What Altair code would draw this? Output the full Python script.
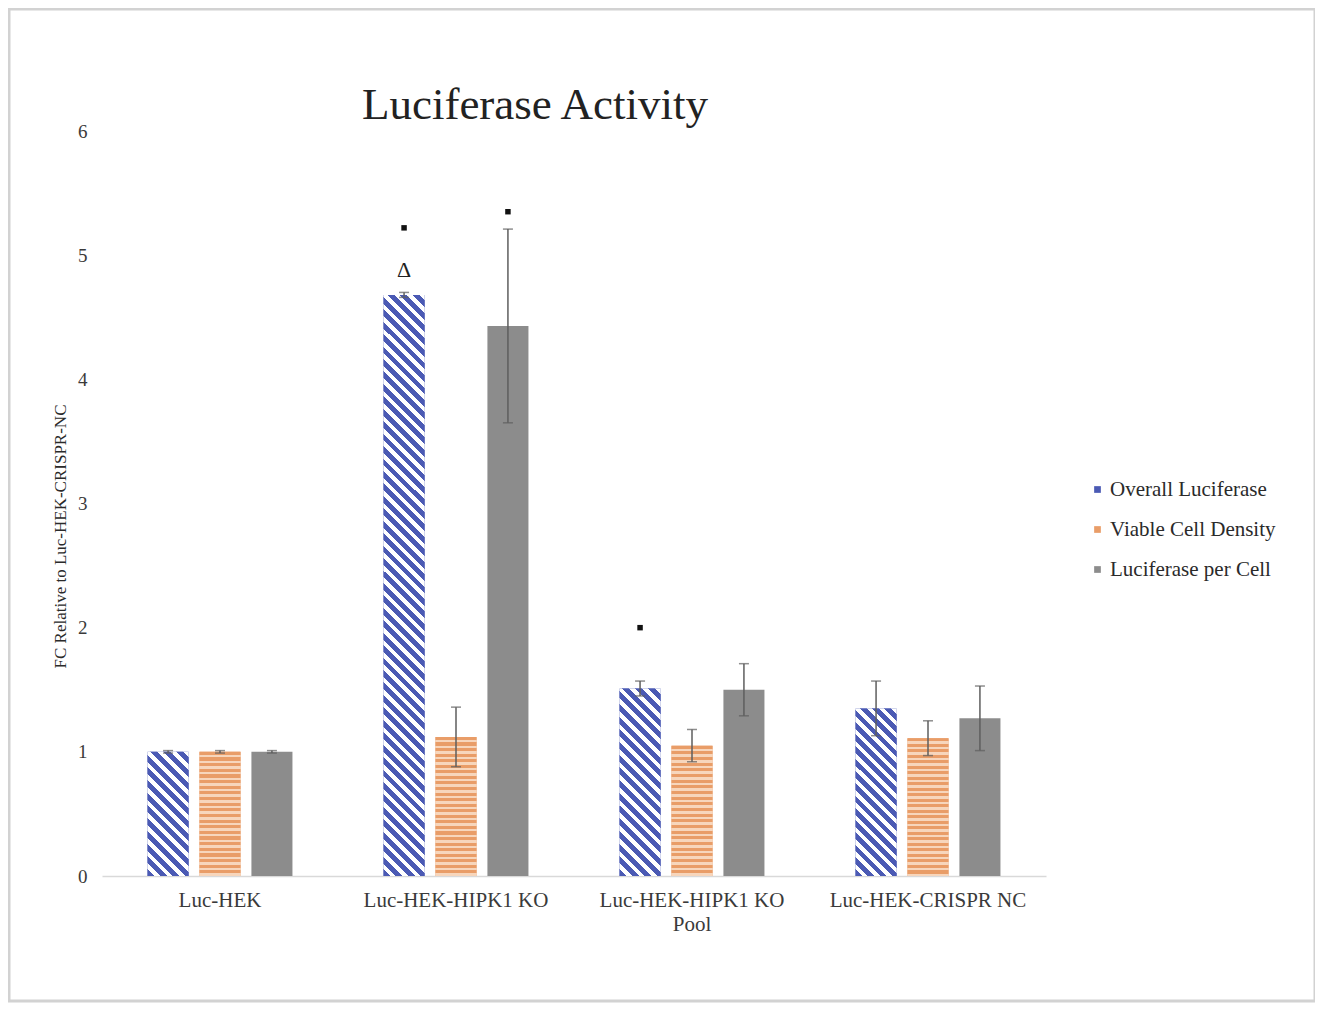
import altair as alt
import pandas as pd

groups = ["Luc-HEK", "Luc-HEK-HIPK1 KO", "Luc-HEK-HIPK1 KO Pool", "Luc-HEK-CRISPR NC"]
series = ["Overall Luciferase", "Viable Cell Density", "Luciferase per Cell"]

overall = [1.00, 4.68, 1.51, 1.35]
overall_err = [0.01, 0.02, 0.06, 0.22]
viable = [1.00, 1.12, 1.05, 1.11]
viable_err = [0.01, 0.24, 0.13, 0.14]
per_cell = [1.00, 4.43, 1.50, 1.27]
per_cell_err = [0.01, 0.78, 0.21, 0.26]

# significance marks: (group, series, y position)
mark_groups = ["Luc-HEK-HIPK1 KO", "Luc-HEK-HIPK1 KO", "Luc-HEK-HIPK1 KO Pool"]
mark_series = ["Overall Luciferase", "Luciferase per Cell", "Overall Luciferase"]
mark_y = [5.22, 5.35, 2.00]
delta_group = ["Luc-HEK-HIPK1 KO"]
delta_series = ["Overall Luciferase"]
delta_y = [4.88]

TITLE = "Luciferase Activity"

BLUE = "#4b5ab4"
ORANGE = "#e99d68"
ORANGE_LIGHT = "#f7d6bc"
GREY = "#8c8c8c"
SERIF = "Liberation Serif"

W_PLOT, H_PLOT = 944, 745
Y_MAX = 6
PX_PER_UNIT = H_PLOT / Y_MAX
BAR_W = 41

rows = []
for i, g in enumerate(groups):
    for s, vals, errs in [(series[0], overall, overall_err),
                          (series[1], viable, viable_err),
                          (series[2], per_cell, per_cell_err)]:
        rows.append({"group": g, "series": s, "value": vals[i],
                     "lo": vals[i] - errs[i], "hi": vals[i] + errs[i]})
df = pd.DataFrame(rows)
marks_df = pd.DataFrame({"group": mark_groups, "series": mark_series, "y": mark_y})
delta_df = pd.DataFrame({"group": delta_group, "series": delta_series, "y": delta_y, "t": ["Δ"]})

label_expr = ("datum.label == 'Luc-HEK-HIPK1 KO Pool' ? ['Luc-HEK-HIPK1 KO', 'Pool'] : datum.label")

x_enc = alt.X("group:N", scale=alt.Scale(domain=groups, paddingInner=0.386, paddingOuter=0.193),
              axis=alt.Axis(title=None, labelExpr=label_expr, labelAngle=0, ticks=False,
                            domainColor="#d9d9d9", domainWidth=1.5, labelFont=SERIF,
                            labelFontSize=21, labelColor="#3a3a3a", labelPadding=13,
                            labelLineHeight=24, labelLimit=0))
xo_enc = alt.XOffset("series:N", scale=alt.Scale(domain=series, paddingInner=0.21, paddingOuter=0))
y_scale = alt.Scale(domain=[0, Y_MAX], nice=False)
y_enc = alt.Y("value:Q", scale=y_scale,
              axis=alt.Axis(title="FC Relative to Luc-HEK-CRISPR-NC", values=list(range(0, 7)),
                            format="d", grid=False, domain=False, ticks=False, labelFont=SERIF,
                            labelFontSize=19, labelColor="#3a3a3a", labelPadding=15,
                            titleFont=SERIF, titleFontSize=17, titleFontWeight="normal",
                            titleColor="#2a2a2a", titleX=-42, titleY=405, titleBaseline="middle"))

base = alt.Chart(df)

bars = base.mark_bar().encode(
    x=x_enc, xOffset=xo_enc, y=y_enc,
    color=alt.Color("series:N", scale=alt.Scale(domain=series, range=[BLUE, ORANGE, GREY]),
                    legend=alt.Legend(title=None, orient="none", legendX=985, legendY=348,
                                      symbolType="square", symbolSize=45, symbolStrokeWidth=0,
                                      labelFont=SERIF, labelFontSize=21, labelColor="#2a2a2a",
                                      labelOffset=2, rowPadding=18, labelLimit=0)),
)


def diag_gradient(h):
    w = BAR_W
    r = h / w
    s = (1 + r) / (1 + r * r)
    n = max(1, round((w + h) / 12.4))
    stops = []
    for k in range(n):
        a = k / n
        b = (k + 0.55) / n
        c = (k + 1) / n
        stops += [{"offset": a, "color": BLUE}, {"offset": b, "color": BLUE},
                  {"offset": b, "color": "#ffffff"}, {"offset": c, "color": "#ffffff"}]
    return {"gradient": "linear", "x1": 0, "y1": 1, "x2": s, "y2": 1 - s * r, "stops": stops}


def horiz_gradient(h):
    n = max(1, round(h / 5.6))
    stops = []
    for k in range(n):
        a = k / n
        b = (k + 0.55) / n
        c = (k + 1) / n
        stops += [{"offset": a, "color": ORANGE}, {"offset": b, "color": ORANGE},
                  {"offset": b, "color": ORANGE_LIGHT}, {"offset": c, "color": ORANGE_LIGHT}]
    return {"gradient": "linear", "x1": 0, "y1": 0, "x2": 0, "y2": 1, "stops": stops}


pattern_layers = []
for i, g in enumerate(groups):
    for s, vals, fn in [(series[0], overall, diag_gradient), (series[1], viable, horiz_gradient)]:
        h = vals[i] * PX_PER_UNIT
        pattern_layers.append(
            base.transform_filter((alt.datum.group == g) & (alt.datum.series == s))
            .mark_bar(fill=fn(h))
            .encode(x=x_enc, xOffset=xo_enc, y=alt.Y("value:Q", scale=y_scale))
        )

err_rule = base.mark_rule(color="#5e5e5e", strokeWidth=1.5).encode(
    x=x_enc, xOffset=xo_enc, y=alt.Y("lo:Q", scale=y_scale), y2="hi:Q")
cap_hi = base.mark_tick(color="#5e5e5e", size=10, thickness=1.5).encode(
    x=x_enc, xOffset=xo_enc, y=alt.Y("hi:Q", scale=y_scale))
cap_lo = base.mark_tick(color="#5e5e5e", size=10, thickness=1.5).encode(
    x=x_enc, xOffset=xo_enc, y=alt.Y("lo:Q", scale=y_scale))

sig = alt.Chart(marks_df).mark_point(shape="square", filled=True, color="#111", size=30, opacity=1).encode(
    x=x_enc, xOffset=xo_enc, y=alt.Y("y:Q", scale=y_scale))
delta = alt.Chart(delta_df).mark_text(font=SERIF, fontSize=22, color="#222", baseline="middle").encode(
    x=x_enc, xOffset=xo_enc, y=alt.Y("y:Q", scale=y_scale), text="t:N")

one = pd.DataFrame({"a": [0]})
border = alt.Chart(one).mark_rect(
    fill=None, stroke="#d2d2d2", strokeWidth=3).encode(
    x=alt.value(-93), x2=alt.value(1213), y=alt.value(-122), y2=alt.value(870))

title = alt.Chart(one).mark_text(font=SERIF, fontSize=45, color="#222", baseline="alphabetic",
                                 align="center").encode(
    x=alt.value(433), y=alt.value(-12), text=alt.value(TITLE))

chart = alt.layer(border, title, bars, *pattern_layers, err_rule, cap_hi, cap_lo, sig, delta).properties(
    width=W_PLOT, height=H_PLOT,
    autosize=alt.AutoSizeParams(type="none"),
    padding={"left": 94, "top": 123, "right": 269, "bottom": 127},
    background="white",
).configure_view(stroke=None)

chart.save("out.html", embed_options={"renderer": "svg", "actions": False})
